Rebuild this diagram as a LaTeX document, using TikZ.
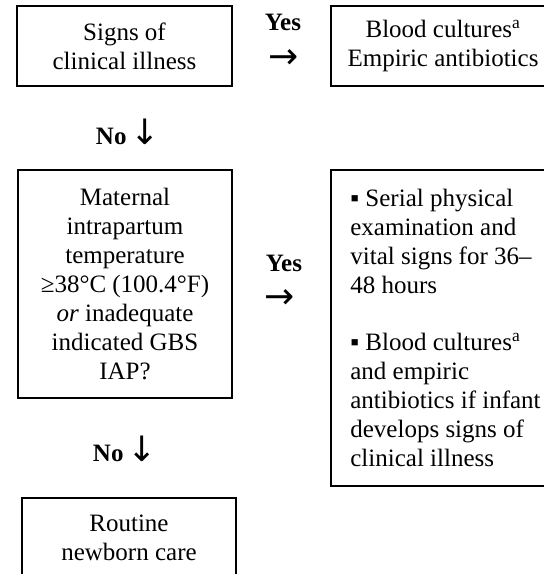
\documentclass[tikz,border=0pt]{standalone}
\usepackage{fontspec}
\setmainfont{Liberation Serif}
\newfontfamily\arrowfont{DejaVu Sans}
\newcommand{\rightto}{{\arrowfont\fontsize{36}{36}\selectfont →}}
\newcommand{\downto}{{\arrowfont\fontsize{35}{35}\selectfont ↓}}

\begin{document}
\begin{tikzpicture}[x=1pt,y=-1pt]
\tikzstyle{every node}=[inner sep=0pt, font=\fontsize{25}{29}\selectfont]
\tikzstyle{box}=[draw, line width=1.8pt, align=center, minimum width=215pt, minimum height=80pt]
\useasboundingbox (0,0) rectangle (544,574);
\draw (124.5,46) node (signs) [box] {Signs of\\clinical illness};
\draw (443,46) node (cultures) [box, minimum width=224pt] {Blood cultures\textsuperscript{a}\\Empiric antibiotics};
\draw (283,22) node (yes1) {\textbf{Yes}};
\draw (284,59) node (then1) {\rightto};
\draw (128,132) node (no1) {\textbf{No}\,\downto};
\draw (125,284) node (maternal) [box, minimum width=214pt, minimum height=228pt] {Maternal\\intrapartum\\temperature\\≥38°C (100.4°F)\\\emph{or} inadequate\\indicated GBS\\IAP?};
\draw (284,263) node (yes2) {\textbf{Yes}};
\draw (280,299) node (then2) {\rightto};
\draw (445.5,328) node (observe) [box, align=left, minimum width=229pt, minimum height=316pt] {▪ Serial physical\\examination and\\vital signs for 36–\\48 hours\\[28pt]▪ Blood cultures\textsuperscript{a}\\and empiric\\antibiotics if infant\\develops signs of\\clinical illness};
\draw (125,449) node (no2) {\textbf{No}\,\downto};
\draw (129,538) node (routine) [box, minimum width=214pt] {Routine\\newborn care};
\end{tikzpicture}
\end{document}
